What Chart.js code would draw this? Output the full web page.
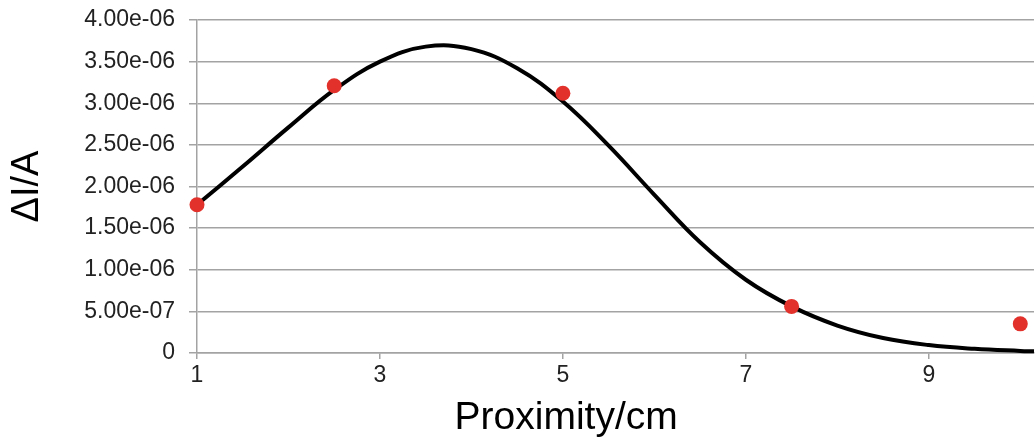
<!DOCTYPE html>
<html>
<head>
<meta charset="utf-8">
<script src="https://cdn.jsdelivr.net/npm/chart.js@4/dist/chart.umd.min.js"></script>
<style>
  html, body { margin: 0; padding: 0; background: #fff; }
  #wrap { width: 1036px; height: 442px; position: relative; }
</style>
</head>
<body>
<div id="wrap"><canvas id="c"></canvas></div>
<script>
// Measured data points (red)
const measuredX = [1, 2.5, 5, 7.5, 10];
const measuredY = [1.78e-6, 3.21e-6, 3.12e-6, 5.6e-7, 3.5e-7];

// Fitted curve
const fitX = [1.0, 1.5, 2.0, 2.5, 3.0, 3.5, 4.0, 4.5, 5.0, 5.5, 6.0, 6.5, 7.0, 7.5, 8.0, 8.5, 9.0, 9.5, 10.0, 10.15];
const fitY = [1.78e-6, 2.24e-6, 2.71e-6, 3.16e-6, 3.50e-6, 3.68e-6, 3.65e-6, 3.42e-6, 3.02e-6, 2.49e-6, 1.90e-6, 1.33e-6, 0.88e-6, 0.56e-6, 0.33e-6, 0.18e-6, 0.095e-6, 0.05e-6, 0.025e-6, 0.02e-6];

// Tick values / labels
const xTickValues = [1, 3, 5, 7, 9];
const yTickValues = [0, 5e-7, 1e-6, 1.5e-6, 2e-6, 2.5e-6, 3e-6, 3.5e-6, 4e-6];
const yTickLabels = ['0', '5.00e-07', '1.00e-06', '1.50e-06', '2.00e-06', '2.50e-06', '3.00e-06', '3.50e-06', '4.00e-06'];

const xTitle = 'Proximity/cm';
const yTitle = 'ΔI/A';

const FONT = '"Liberation Sans", Arial, Helvetica, sans-serif';
const GRID = '#a3a3a3';

// Draws the x-axis title (the reference centres it a bit left of the plot centre)
const xTitlePlugin = {
  id: 'xTitlePlugin',
  afterDraw(chart) {
    const ctx = chart.ctx;
    const a = chart.chartArea;
    ctx.save();
    ctx.font = '39px ' + FONT;
    ctx.fillStyle = '#000';
    ctx.textAlign = 'center';
    ctx.textBaseline = 'middle';
    ctx.fillText(xTitle, a.left + (a.right - a.left) * 0.441, chart.height - 24);
    ctx.restore();
  }
};

new Chart(document.getElementById('c'), {
  type: 'scatter',
  data: {
    datasets: [
      {
        label: 'measured',
        data: measuredX.map((x, i) => ({ x: x, y: measuredY[i] })),
        backgroundColor: '#e2302a',
        borderWidth: 0,
        pointRadius: 7.5,
        pointHoverRadius: 7.5,
        showLine: false,
        clip: false,
        order: 0
      },
      {
        label: 'fit',
        type: 'line',
        data: fitX.map((x, i) => ({ x: x, y: fitY[i] })),
        borderColor: '#000',
        borderWidth: 4,
        pointRadius: 0,
        fill: false,
        tension: 0.4,
        clip: false,
        order: 1
      }
    ]
  },
  plugins: [xTitlePlugin],
  options: {
    responsive: true,
    maintainAspectRatio: false,
    animation: false,
    layout: { autoPadding: false, padding: { top: 20, right: 2, bottom: 0, left: 0 } },
    plugins: { legend: { display: false }, tooltip: { enabled: false } },
    scales: {
      x: {
        type: 'linear',
        min: 1,
        max: 10.15,
        afterBuildTicks: s => { s.ticks = xTickValues.map(v => ({ value: v })); },
        afterFit: s => { s.height = 442 - 353; s.paddingLeft = 0; s.paddingRight = 0; },
        grid: { drawOnChartArea: false, color: GRID, lineWidth: 1.5, tickLength: 6 },
        border: { display: true, color: GRID, width: 1.5 },
        ticks: {
          padding: 3,
          color: '#222',
          font: { family: FONT, size: 23 },
          callback: v => String(v),
          maxRotation: 0
        },
        title: { display: false }
      },
      y: {
        type: 'linear',
        min: 0,
        max: 4e-6,
        afterBuildTicks: s => { s.ticks = yTickValues.map(v => ({ value: v })); },
        afterFit: s => { s.width = 197; s.paddingTop = 0; s.paddingBottom = 0; },
        grid: { color: GRID, lineWidth: 1.5, tickLength: 8 },
        border: { display: true, color: GRID, width: 1.5 },
        ticks: {
          padding: 14,
          color: '#222',
          font: { family: FONT, size: 23 },
          callback: (v, i) => yTickLabels[i]
        },
        title: {
          display: true,
          text: yTitle,
          color: '#000',
          font: { family: FONT, size: 38 },
          padding: { top: 5, bottom: 0 }
        }
      }
    }
  }
});
</script>
</body>
</html>
